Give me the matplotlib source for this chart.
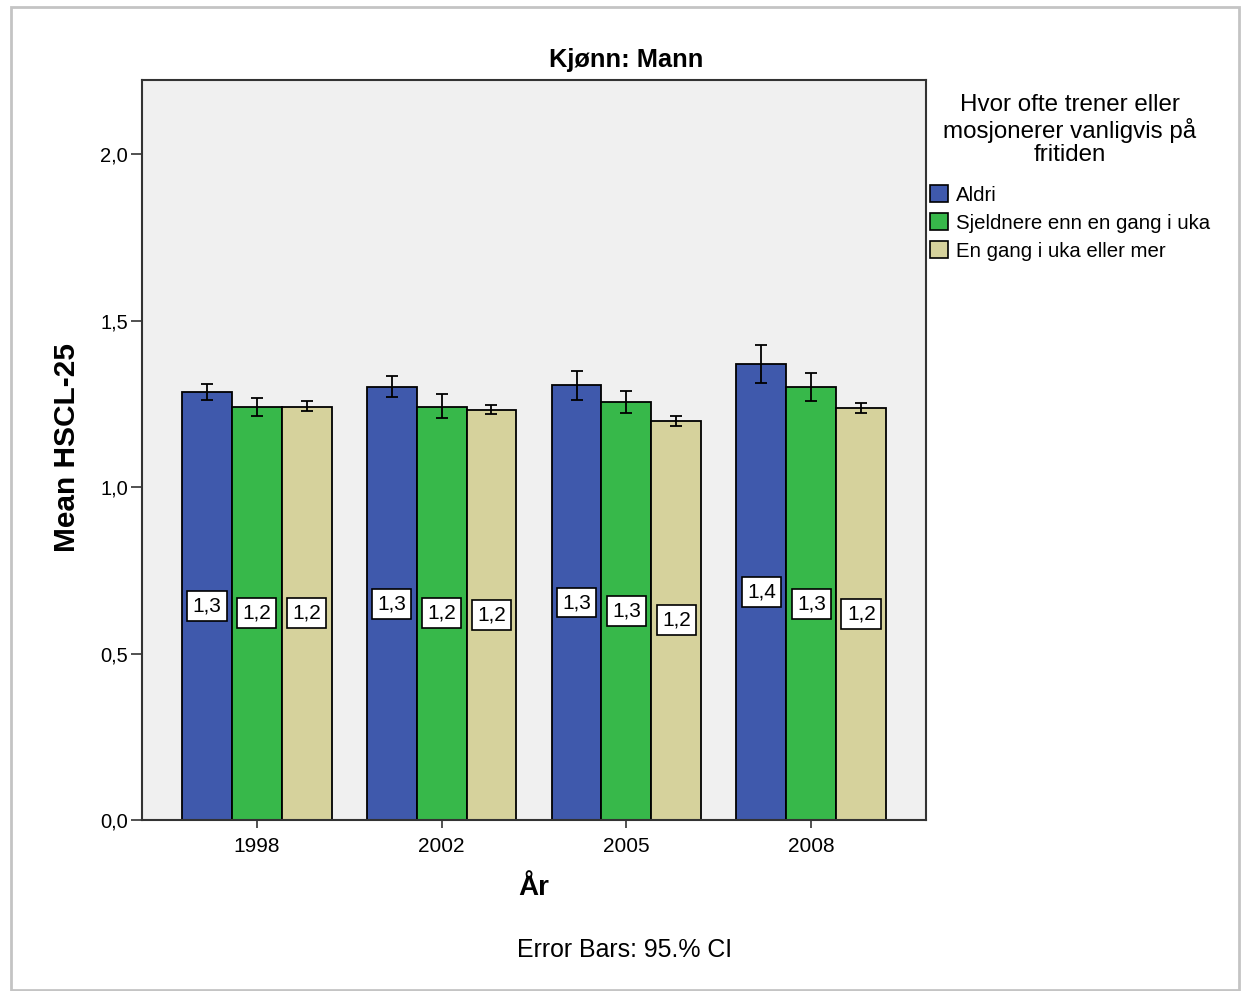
import matplotlib
matplotlib.use("Agg")
import matplotlib.pyplot as plt
import numpy as np
from matplotlib.patches import Patch, Rectangle

plt.rcParams['font.family'] = ['Liberation Sans', 'DejaVu Sans']

# Data: mean HSCL-25 by year and exercise frequency, with 95% CI bounds
years = ["1998", "2002", "2005", "2008"]
groups = ["Aldri", "Sjeldnere enn en gang i uka", "En gang i uka eller mer"]
aldri = [1.285, 1.299, 1.306, 1.370]
aldri_lo = [1.261, 1.269, 1.260, 1.312]
aldri_hi = [1.309, 1.332, 1.348, 1.426]
sjeldnere = [1.241, 1.241, 1.255, 1.299]
sjeldnere_lo = [1.213, 1.208, 1.222, 1.257]
sjeldnere_hi = [1.267, 1.278, 1.288, 1.341]
engang = [1.241, 1.231, 1.199, 1.237]
engang_lo = [1.229, 1.218, 1.184, 1.221]
engang_hi = [1.258, 1.247, 1.213, 1.252]

colors = ["#3F59AC", "#37B84A", "#D6D29C"]

W, H = 1244, 991
fig = plt.figure(figsize=(W / 100, H / 100), dpi=100)
fig.patch.set_facecolor("white")

# Outer frame
fig.patches.append(Rectangle((11 / W, 1 - 990 / H), (1239 - 11) / W, (990 - 7) / H,
                             transform=fig.transFigure, fill=False,
                             edgecolor="#c4c4c4", linewidth=2.0))

ax = fig.add_axes([142 / W, 1 - 820 / H, (926 - 142) / W, (820 - 80) / H])
ax.set_facecolor("#F0F0F0")

x = np.arange(len(years))
width = 0.27
series = [(aldri, aldri_lo, aldri_hi), (sjeldnere, sjeldnere_lo, sjeldnere_hi),
          (engang, engang_lo, engang_hi)]

for i, (vals, lo, hi) in enumerate(series):
    pos = x + (i - 1) * width
    vals = np.array(vals)
    lo = np.array(lo)
    hi = np.array(hi)
    ax.bar(pos, vals, width, color=colors[i], edgecolor="black", linewidth=1.3, zorder=2)
    ax.errorbar(pos, vals, yerr=[vals - lo, hi - vals], fmt="none", ecolor="black",
                elinewidth=1.3, capsize=4.5, capthick=1.3, zorder=3)
    for p, v in zip(pos, vals):
        ax.text(p, v / 2, f"{v:.1f}".replace(".", ","), ha="center", va="center",
                fontsize=15, zorder=4,
                bbox=dict(boxstyle="square,pad=0.26", fc="white", ec="black", lw=1.2))

ax.set_xlim(-0.62, 3.62)
ax.set_ylim(0, 740 / 333)
ax.set_xticks(x)
ax.set_xticklabels(years, fontsize=15)
yt = [0, 0.5, 1.0, 1.5, 2.0]
ax.set_yticks(yt)
ax.set_yticklabels([f"{v:.1f}".replace(".", ",") for v in yt], fontsize=14.5)
ax.tick_params(axis="y", direction="out", length=8, width=1.2, color="#333333", pad=2)
ax.tick_params(axis="x", direction="out", length=6, width=1.2, color="#333333", pad=6)
for s in ax.spines.values():
    s.set_color("#333333")
    s.set_linewidth(1.5)

fig.text(67 / W, 1 - 447 / H, "Mean HSCL-25", rotation=90, ha="center", va="center",
         fontsize=21.5, fontweight="bold")
fig.text(534 / W, 1 - 888 / H, "År", ha="center", va="center", fontsize=20, fontweight="bold")
fig.text(626 / W, 1 - 60 / H, "Kjønn: Mann", ha="center", va="center", fontsize=18.3, fontweight="bold")
fig.text(625 / W, 1 - 950 / H, "Error Bars: 95.% CI", ha="center", va="center", fontsize=17.9)

# Legend
fig.text(1070 / W, 1 - 130 / H, "Hvor ofte trener eller\nmosjonerer vanligvis på\nfritiden",
         ha="center", va="center", fontsize=17.4, linespacing=1.07)
handles = [Patch(facecolor=c, edgecolor="black", linewidth=1.2) for c in colors]
leg = fig.legend(handles, groups, loc="upper left", bbox_to_anchor=(930 / W, 1 - 185 / H),
                 frameon=False, fontsize=14.7, handlelength=0.9, handleheight=0.9,
                 handletextpad=0.35, labelspacing=0.42, borderaxespad=0, borderpad=0)

fig.savefig("out.png", dpi=100, facecolor="white")
